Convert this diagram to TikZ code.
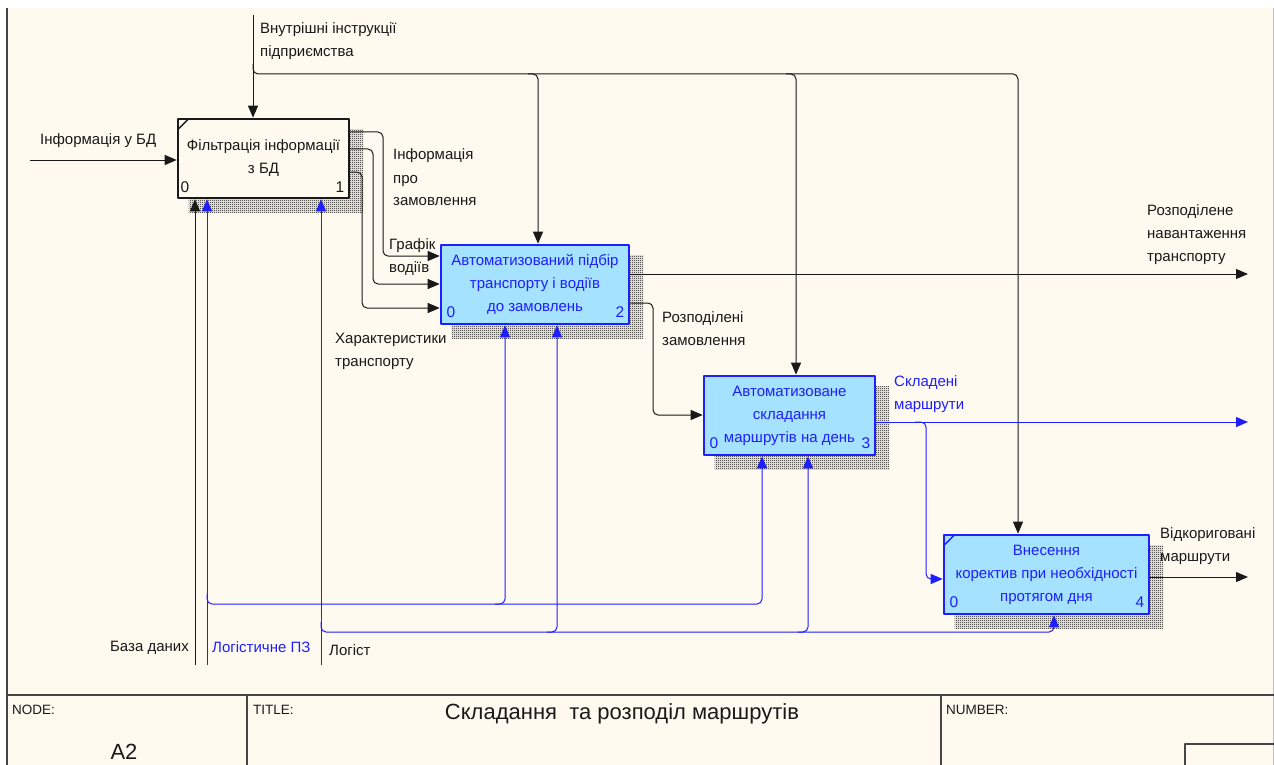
\documentclass[tikz,border=0pt]{standalone}
\usepackage{fontspec}
\setmainfont{Liberation Sans}
\usetikzlibrary{arrows.meta,patterns,calc}

\definecolor{paper}{RGB}{255,250,240}
\definecolor{boxblue}{RGB}{164,226,255}
\definecolor{ink}{RGB}{25,25,25}
\definecolor{idefblue}{RGB}{30,30,255}
\definecolor{frame}{RGB}{70,70,70}

% fine checker used for the drop shadows of the activity boxes
\pgfdeclarepatternformonly{finecheck}{\pgfpointorigin}{\pgfpoint{2pt}{2pt}}{\pgfpoint{2pt}{2pt}}{%
  \pgfpathrectangle{\pgfpointorigin}{\pgfpoint{1pt}{1pt}}%
  \pgfpathrectangle{\pgfpoint{1pt}{1pt}}{\pgfpoint{1pt}{1pt}}%
  \pgfusepath{fill}}

\pgfdeclarelayer{paperlayer}
\pgfdeclarelayer{shadowlayer}
\pgfsetlayers{paperlayer,shadowlayer,main}

\begin{document}
\begin{tikzpicture}[x=1pt,y=-1pt,line join=round,
  conn/.style={draw=ink,line width=1pt,rounded corners=5pt},
  bconn/.style={draw=idefblue,line width=1pt,rounded corners=5pt},
  tip/.style={-{Triangle[length=12pt,width=10pt]}},
  act/.style={rectangle,line width=2.6pt,inner sep=2pt,align=center,
    minimum height=79pt,font=\fontsize{15}{23}\selectfont},
  lbl/.style={inner sep=0pt,text=ink,font=\fontsize{15}{23}\selectfont},
  blbl/.style={lbl,text=idefblue},
  num/.style={inner sep=0pt,anchor=base,font=\fontsize{15.5}{18}\selectfont},
  hdr/.style={inner sep=0pt,anchor=base west,text=ink,font=\fontsize{13.5}{16}\selectfont},
  shade/.style={pattern=finecheck,pattern color=black}]

\useasboundingbox (0,0) rectangle (1274,765);

% sheet and frame
\begin{pgfonlayer}{paperlayer}
  \fill[white] (0,0) rectangle (1274,765);
  \fill[paper] (7,8) rectangle (1274,765);
\end{pgfonlayer}
\draw[frame,line width=2pt] (7,8) -- (7,765);
\draw[black!25,line width=1pt] (1273.5,8) -- (1273.5,765);

% title block
\draw[frame,line width=1.5pt] (7,695) -- (1274,695);
\draw[frame,line width=1.5pt] (247,695) -- (247,765);
\draw[frame,line width=1.5pt] (941,695) -- (941,765);
\draw[frame,line width=1.5pt] (1185,765) -- (1185,744) -- (1274,744);
\node[hdr] (hnode) at (12,714) {NODE:};
\node[hdr] (htitle) at (253,714) {TITLE:};
\node[hdr] (hnum) at (946,714) {NUMBER:};
\node[inner sep=0pt,anchor=base,text=ink,font=\fontsize{22}{26}\selectfont] (nodeid) at (124,759) {A2};
\node[inner sep=0pt,anchor=base,text=ink,font=\fontsize{22}{26}\selectfont] (title) at (622,719) {Складання\ \ та розподіл маршрутів};

% activity boxes
\node[act,draw=ink,fill=paper,text=ink,minimum width=171pt] (b1) at (263.5,158.5) {Фільтрація інформації\\з БД};
\node[act,draw=idefblue,fill=boxblue,text=idefblue,minimum width=188pt] (b2) at (535,284.5) {Автоматизований підбір\\транспорту і водіїв\\до замовлень};
\node[act,draw=idefblue,fill=boxblue,text=idefblue,minimum width=171pt] (b3) at (789.5,415.5) {Автоматизоване\\складання\\маршрутів на день};
\node[act,draw=idefblue,fill=boxblue,text=idefblue,minimum width=205pt] (b4) at (1046.5,574.5) {Внесення\\коректив при необхідності\\протягом дня};

\begin{pgfonlayer}{shadowlayer}
  \foreach \b in {b1,b2,b3,b4}
    \fill[shade] ($(\b.north west)+(12,12)$) rectangle ($(\b.south east)+(13,13)$);
\end{pgfonlayer}

% diagram corner marks
\draw[ink,line width=1.5pt] ($(b1.north west)+(1,12)$) -- ($(b1.north west)+(12,1)$);
\draw[idefblue,line width=1.5pt] ($(b4.north west)+(1,12)$) -- ($(b4.north west)+(12,1)$);

% box numbers
\node[num,text=ink] (n1l) at (185,192) {0};
\node[num,text=ink] (n1r) at (340,192) {1};
\node[num,text=idefblue] (n2l) at (451,317) {0};
\node[num,text=idefblue] (n2r) at (620,317) {2};
\node[num,text=idefblue] (n3l) at (714,448) {0};
\node[num,text=idefblue] (n3r) at (866,448) {3};
\node[num,text=idefblue] (n4l) at (954,607) {0};
\node[num,text=idefblue] (n4r) at (1140,607) {4};

% input
\coordinate (inBD) at (30,160);
\draw[conn,tip] (inBD) -- (inBD -| b1.west);

% controls
\coordinate (ctl) at (253,15);
\coordinate (ctl4) at (1018,74);
\coordinate (ctl2) at (538,74);
\coordinate (ctl3) at (796,74);
\draw[conn,tip] (ctl) -- (ctl |- b1.north);
\draw[conn,tip] (253,64) -- (253,74) -- (ctl4) -- (ctl4 |- b4.north);
\draw[conn,tip] (528,74) -- (ctl2) -- (ctl2 |- b2.north);
\draw[conn,tip] (786,74) -- (ctl3) -- (ctl3 |- b3.north);

% outputs of box 1
\draw[conn,tip] (b1.east |- 0,132) -- (383,132) -- (383,256) -- (b2.west |- 0,256);
\draw[conn,tip] (b1.east |- 0,149) -- (373,149) -- (373,284) -- (b2.west |- 0,284);
\draw[conn,tip] (b1.east |- 0,172) -- (362,172) -- (362,308) -- (b2.west |- 0,308);

% outputs of box 2
\coordinate (outNav) at (1248,274);
\draw[conn,tip] (b2.east |- outNav) -- (outNav);
\draw[conn,tip] (b2.east |- 0,303) -- (653,303) -- (653,415) -- (b3.west |- 0,415);

% outputs of box 3
\coordinate (outRoutes) at (1248,422);
\draw[bconn,tip] (b3.east |- outRoutes) -- (outRoutes);
\draw[bconn,tip] (915,422) -- (926,422) -- (926,579) -- (b4.west |- 0,579);

% output of box 4
\coordinate (outFix) at (1248,577);
\draw[conn,tip] (b4.east |- outFix) -- (outFix);

% mechanisms
\coordinate (mDB) at (195,665);
\coordinate (mPZ) at (207,665);
\coordinate (mLg) at (321,665);
\coordinate (pz2) at (505,604);
\coordinate (pz3) at (762,604);
\coordinate (lg2) at (557,632);
\coordinate (lg3) at (808,632);
\coordinate (lg4) at (1054,632);
\draw[conn,tip] (mDB) -- (mDB |- b1.south);
\draw[bconn,tip] (mPZ) -- (mPZ |- b1.south);
\draw[bconn,tip] (207,594) -- (207,604) -- (pz3) -- (pz3 |- b3.south);
\draw[bconn,tip] (495,604) -- (pz2) -- (pz2 |- b2.south);
\draw[bconn,tip] (mLg) -- (mLg |- b1.south);
\draw[bconn,tip] (321,622) -- (321,632) -- (lg4) -- (lg4 |- b4.south);
\draw[bconn,tip] (547,632) -- (lg2) -- (lg2 |- b2.south);
\draw[bconn,tip] (798,632) -- (lg3) -- (lg3 |- b3.south);

% arrow labels
\node[lbl,anchor=base west] (tIn) at (40,144) {Інформація у БД};
\node[lbl,anchor=base west] (tCa) at (260,34) {Внутрішні інструкції};
\node[lbl,anchor=base west] (tCb) at (260,57) {підприємства};
\node[lbl,anchor=base west] (tOa) at (393,160) {Інформація};
\node[lbl,anchor=base west] (tOb) at (393,183) {про};
\node[lbl,anchor=base west] (tOc) at (393,205) {замовлення};
\node[lbl,anchor=base west] (tGa) at (389,249) {Графік};
\node[lbl,anchor=base west] (tGb) at (389,272) {водіїв};
\node[lbl,anchor=base west] (tHa) at (335,343) {Характеристики};
\node[lbl,anchor=base west] (tHb) at (335,366) {транспорту};
\node[lbl,anchor=base west] (tNa) at (1147,215) {Розподілене};
\node[lbl,anchor=base west] (tNb) at (1147,238) {навантаження};
\node[lbl,anchor=base west] (tNc) at (1147,261) {транспорту};
\node[lbl,anchor=base west] (tRa) at (662,322) {Розподілені};
\node[lbl,anchor=base west] (tRb) at (662,345) {замовлення};
\node[blbl,anchor=base west] (tSa) at (894,386) {Складені};
\node[blbl,anchor=base west] (tSb) at (894,409) {маршрути};
\node[lbl,anchor=base west] (tVa) at (1160,538) {Відкориговані};
\node[lbl,anchor=base west] (tVb) at (1160,561) {маршрути};
\node[lbl,anchor=base east] (tDB) at (189,651) {База даних};
\node[blbl,anchor=base west] (tPZ) at (212,652) {Логістичне ПЗ};
\node[lbl,anchor=base west] (tLg) at (329,655) {Логіст};

\end{tikzpicture}
\end{document}
